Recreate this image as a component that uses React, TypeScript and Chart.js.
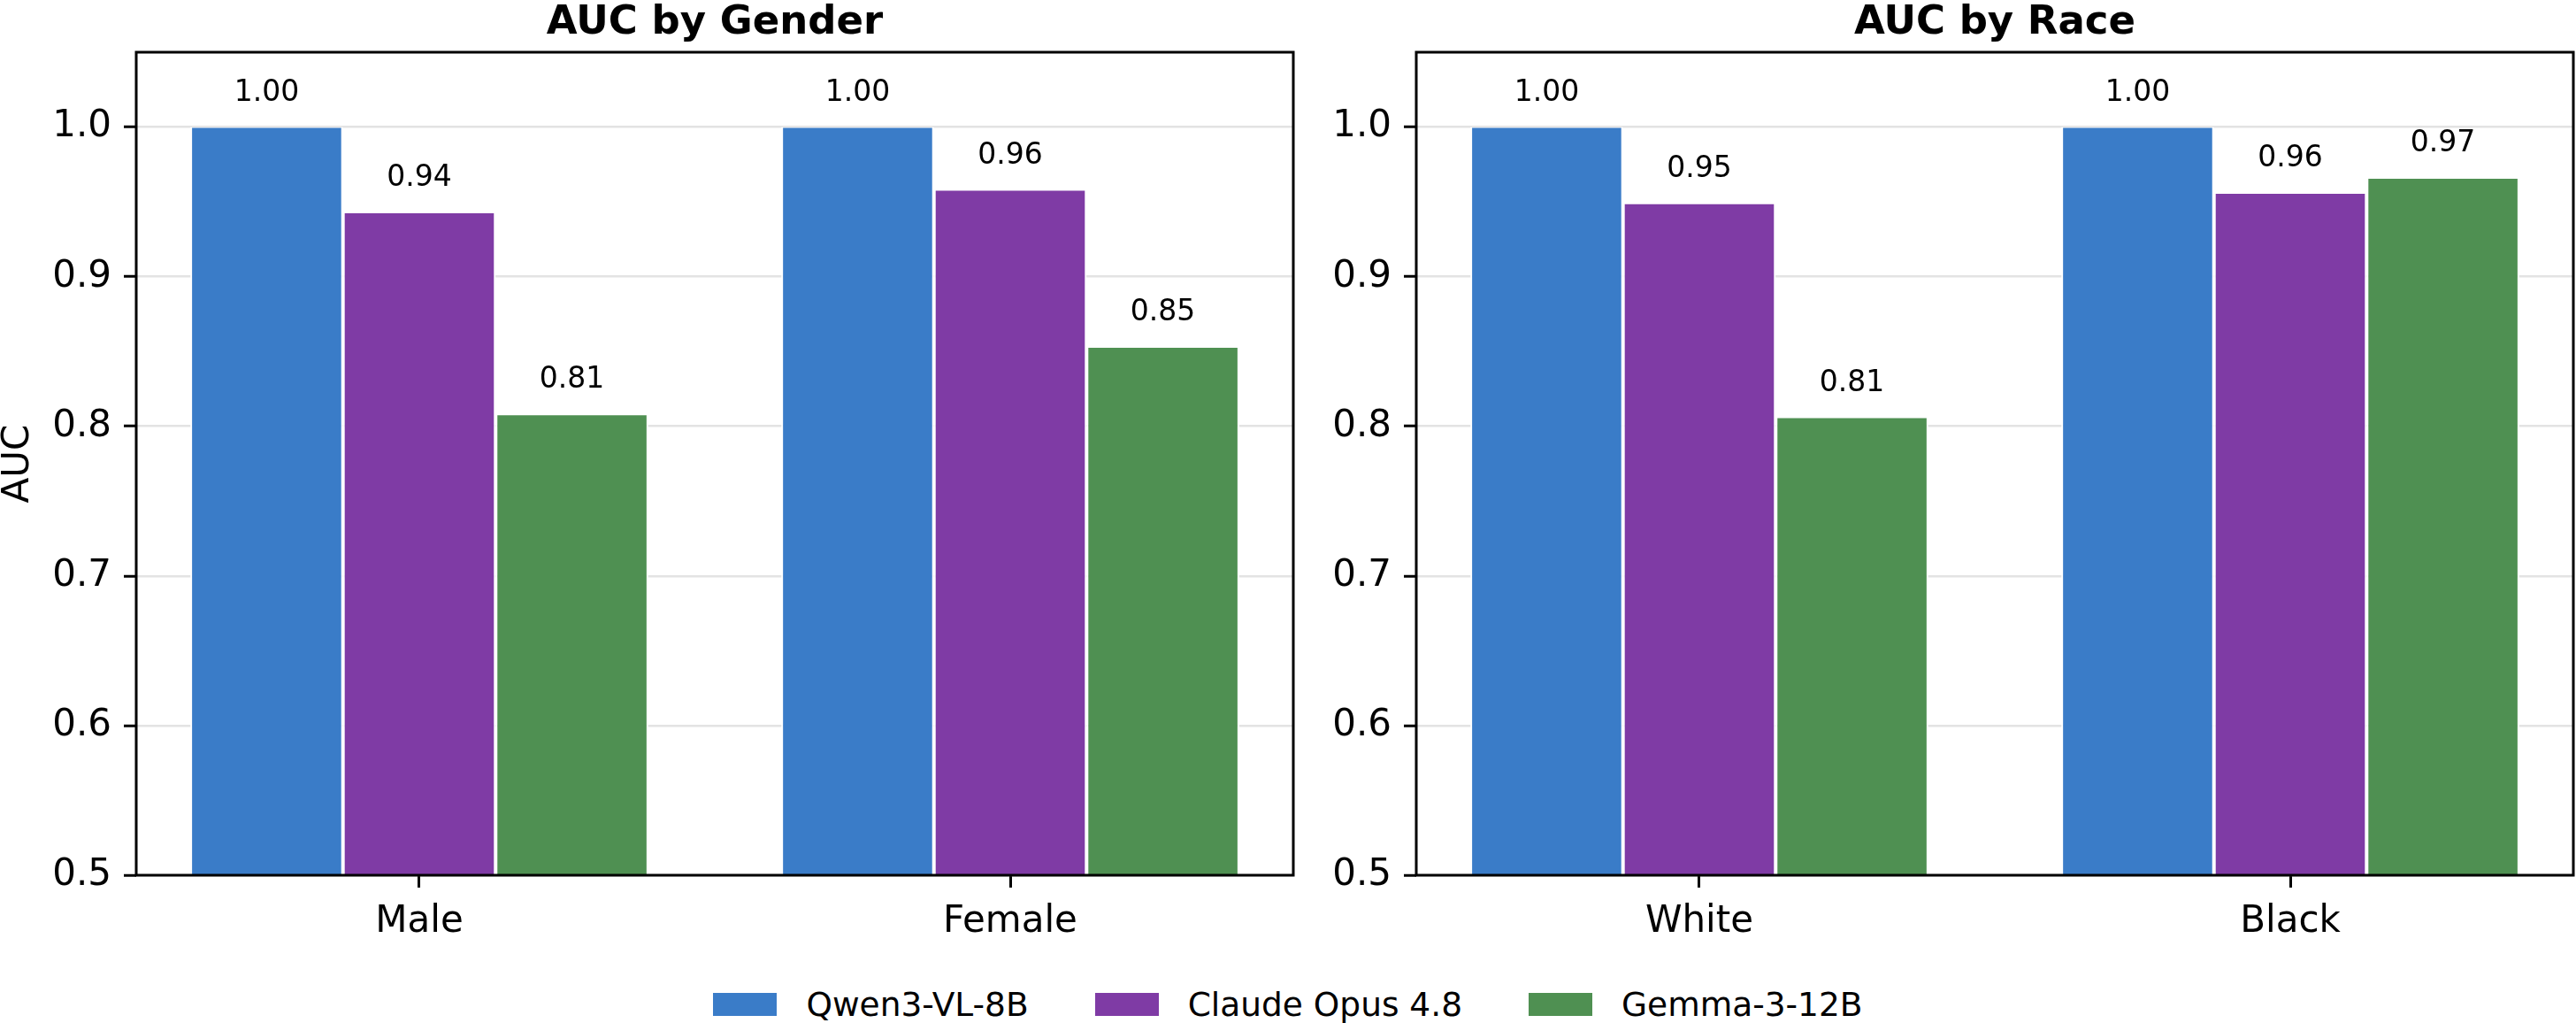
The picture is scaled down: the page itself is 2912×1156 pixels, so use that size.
import React, { useEffect, useRef } from "react";
import { Chart, registerables } from "chart.js";

Chart.register(...registerables);

const FONT = "'DejaVu Sans', 'Liberation Sans', sans-serif";

// Groups shown in each panel
const genderCategories = ["Male", "Female"];
const raceCategories = ["White", "Black"];

// Models (series) and their colours
const modelNames = ["Qwen3-VL-8B", "Claude Opus 4.8", "Gemma-3-12B"];
const modelColors = ["#3a7cc8", "#7f3ba5", "#4f9052"];

// AUC by gender (Male, Female)
const qwenGender = [1.0, 1.0];
const claudeGender = [0.943, 0.958];
const gemmaGender = [0.808, 0.853];

// AUC by race (White, Black)
const qwenRace = [1.0, 1.0];
const claudeRace = [0.949, 0.956];
const gemmaRace = [0.806, 0.966];

// Value axis
const yTicks = [0.5, 0.6, 0.7, 0.8, 0.9, 1.0];
const yMin = 0.5;
const yMax = 1.05;

// Draws the four spines around the plotting area
const framePlugin = {
  id: "frame",
  afterDraw(chart: any) {
    const { ctx, chartArea } = chart;
    ctx.save();
    ctx.strokeStyle = "#000";
    ctx.lineWidth = 3;
    ctx.strokeRect(
      chartArea.left,
      chartArea.top,
      chartArea.right - chartArea.left,
      chartArea.bottom - chartArea.top
    );
    ctx.restore();
  },
};

// Prints each bar's value above it
const valueLabelPlugin = {
  id: "valueLabels",
  afterDraw(chart: any) {
    const { ctx } = chart;
    ctx.save();
    ctx.font = `33px ${FONT}`;
    ctx.fillStyle = "#000";
    ctx.textAlign = "center";
    ctx.textBaseline = "alphabetic";
    chart.data.datasets.forEach((ds: any, di: number) => {
      const meta = chart.getDatasetMeta(di);
      meta.data.forEach((el: any, i: number) => {
        const v = ds.data[i].y as number;
        ctx.fillText(v.toFixed(2), el.x, el.y - 30);
      });
    });
    ctx.restore();
  },
};

type PanelProps = {
  title: string;
  categories: string[];
  series: number[][];
  showYTitle: boolean;
  left: number;
  width: number;
  padRight: number;
};

function Panel({ title, categories, series, showYTitle, left, width, padRight }: PanelProps) {
  const ref = useRef<HTMLCanvasElement | null>(null);

  useEffect(() => {
    if (!ref.current) return;
    const chart = new Chart(ref.current, {
      type: "bar",
      data: {
        datasets: series.map((vals, i) => ({
          label: modelNames[i],
          data: vals.map((v, j) => ({ x: j, y: v })),
          backgroundColor: modelColors[i],
          borderColor: "#ffffff",
          borderWidth: { left: 2, right: 2, top: 1, bottom: 0 },
          barPercentage: 1,
          categoryPercentage: 0.775,
        })),
      },
      options: {
        animation: false,
        responsive: false,
        devicePixelRatio: 1,
        events: [],
        layout: { padding: { left: 0, right: padRight, top: 0, bottom: 0 } },
        plugins: {
          legend: { display: false },
          tooltip: { enabled: false },
          title: {
            display: true,
            text: title,
            fullSize: false,
            color: "#000",
            font: { family: FONT, size: 45, weight: "bold", lineHeight: 1 },
            padding: { top: 8, bottom: 10 },
          },
        },
        scales: {
          x: {
            type: "linear",
            min: -0.479,
            max: 1.479,
            offset: false,
            afterBuildTicks: (s: any) => {
              s.ticks = categories.map((_, i) => ({ value: i }));
            },
            afterFit: (s: any) => {
              s.height = 70;
            },
            ticks: {
              callback: (_v: any, i: number) => categories[i],
              color: "#000",
              font: { family: FONT, size: 42, lineHeight: 1 },
              padding: 18,
              maxRotation: 0,
              autoSkip: false,
            },
            grid: {
              offset: false,
              drawOnChartArea: false,
              drawTicks: true,
              tickLength: 14,
              tickColor: "#000",
              tickWidth: 3,
            },
            border: { display: false },
          },
          y: {
            min: yMin,
            max: yMax,
            z: 1,
            afterBuildTicks: (s: any) => {
              s.ticks = yTicks.map((v) => ({ value: v }));
            },
            afterFit: (s: any) => {
              s.width = 154;
            },
            ticks: {
              callback: (v: any) => Number(v).toFixed(1),
              color: "#000",
              font: { family: FONT, size: 42, lineHeight: 1 },
              padding: 14,
            },
            grid: {
              color: "rgba(176,176,176,0.35)",
              lineWidth: 2.5,
              drawTicks: true,
              tickLength: 14,
              tickColor: "#000",
              tickWidth: 3,
            },
            border: { display: false },
            title: {
              display: showYTitle,
              text: "AUC",
              color: "#000",
              font: { family: FONT, size: 42, lineHeight: 1 },
              padding: { top: 0, bottom: 0 },
            },
          },
        },
      } as any,
      plugins: [framePlugin, valueLabelPlugin],
    });
    return () => chart.destroy();
  }, []);

  return (
    <canvas
      ref={ref}
      width={width}
      height={1063}
      style={{ position: "absolute", left, top: -4, width, height: 1063 }}
    />
  );
}

function Legend() {
  return (
    <div
      style={{
        position: "absolute",
        left: 0,
        top: 1116,
        width: 2912,
        height: 38,
        display: "flex",
        justifyContent: "center",
        alignItems: "center",
        gap: 75,
        fontFamily: FONT,
        fontSize: 37.5,
        lineHeight: "38px",
        color: "#000",
      }}
    >
      {modelNames.map((name, i) => (
        <div key={name} style={{ display: "flex", alignItems: "center" }}>
          <span
            style={{
              display: "inline-block",
              width: 72,
              height: 26,
              background: modelColors[i],
              marginRight: 33,
            }}
          />
          <span style={{ whiteSpace: "nowrap" }}>{name}</span>
        </div>
      ))}
    </div>
  );
}

export default function App() {
  return (
    <div
      style={{
        position: "absolute",
        left: 0,
        top: 0,
        width: 2912,
        height: 1156,
        overflow: "hidden",
        background: "#fff",
      }}
    >
      <Panel
        title="AUC by Gender"
        categories={genderCategories}
        series={[qwenGender, claudeGender, gemmaGender]}
        showYTitle={true}
        left={0}
        width={1470}
        padRight={8}
      />
      <Panel
        title="AUC by Race"
        categories={raceCategories}
        series={[qwenRace, claudeRace, gemmaRace]}
        showYTitle={false}
        left={1447}
        width={1465}
        padRight={3}
      />
      <Legend />
    </div>
  );
}
